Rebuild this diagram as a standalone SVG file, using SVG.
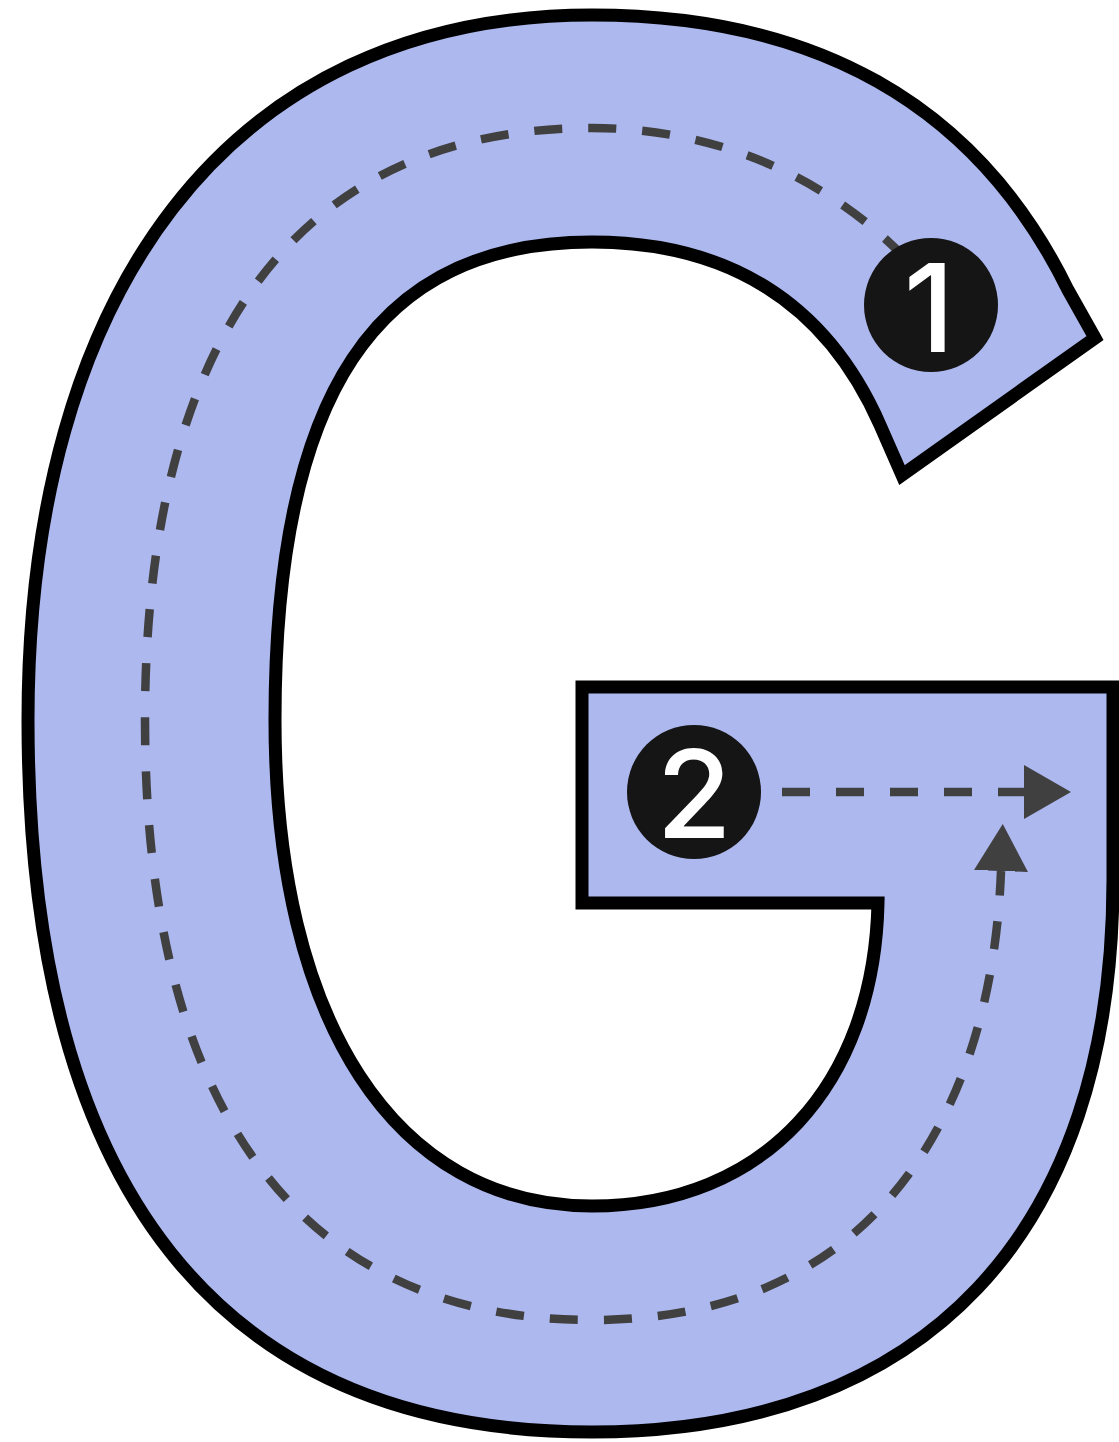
<svg xmlns="http://www.w3.org/2000/svg" width="1119" height="1442" viewBox="0 0 1119 1442">
  <style>
    .letter { fill: #adb8ee; stroke: #000000; stroke-width: 13; stroke-linejoin: miter; stroke-miterlimit: 10; }
    .guide { fill: none; stroke: #404040; stroke-width: 8.5; stroke-dasharray: 28 26; stroke-linecap: butt; }
    .badge { fill: #151515; }
    .num { fill: #ffffff; font-family: Inter, "Open Sans", "Liberation Sans", sans-serif; font-weight: 500; font-size: 122px; text-anchor: middle; }
  </style>
  <defs>
    <marker id="arrow" viewBox="0 0 47 54" refX="0" refY="27" markerWidth="47" markerHeight="54" markerUnits="userSpaceOnUse" orient="auto">
      <path d="M0,0 L47,27 L0,54 Z" fill="#404040"/>
    </marker>
  </defs>

  <g id="letter-g">
    <path class="letter" d="M 1095,338 L 1068,290 C 975,100 810,15 592,15 C 225,15 28,297 28,720 C 28,1190 220,1432 592,1432 C 925,1432 1113,1233 1113,880 L 1113,687 L 582,687 L 582,903 L 878,903 C 874,1085 764,1206 592,1206 C 395,1206 275,1021 275,720 C 275,394 376,242 592,242 C 725,242 825,300 880,425 L 902,475 Z"/>
  </g>

  <g id="connectors">
    <path id="stroke-1" class="guide" d="M 905,258 C 830,180 720,128 592,128 C 301,128 145,335 145,720 C 145,1110 301,1320 592,1320 C 878,1320 992,1110 1001,871" marker-end="url(#arrow)"/>
    <path id="stroke-2" class="guide" d="M 782,792 L 1024,792" marker-end="url(#arrow)"/>
  </g>

  <g id="node-1">
    <circle class="badge" cx="931" cy="305" r="67"/>
    <text class="num" x="929" y="352">1</text>
  </g>

  <g id="node-2">
    <circle class="badge" cx="694" cy="792" r="67"/>
    <text class="num" x="694" y="838">2</text>
  </g>
</svg>
